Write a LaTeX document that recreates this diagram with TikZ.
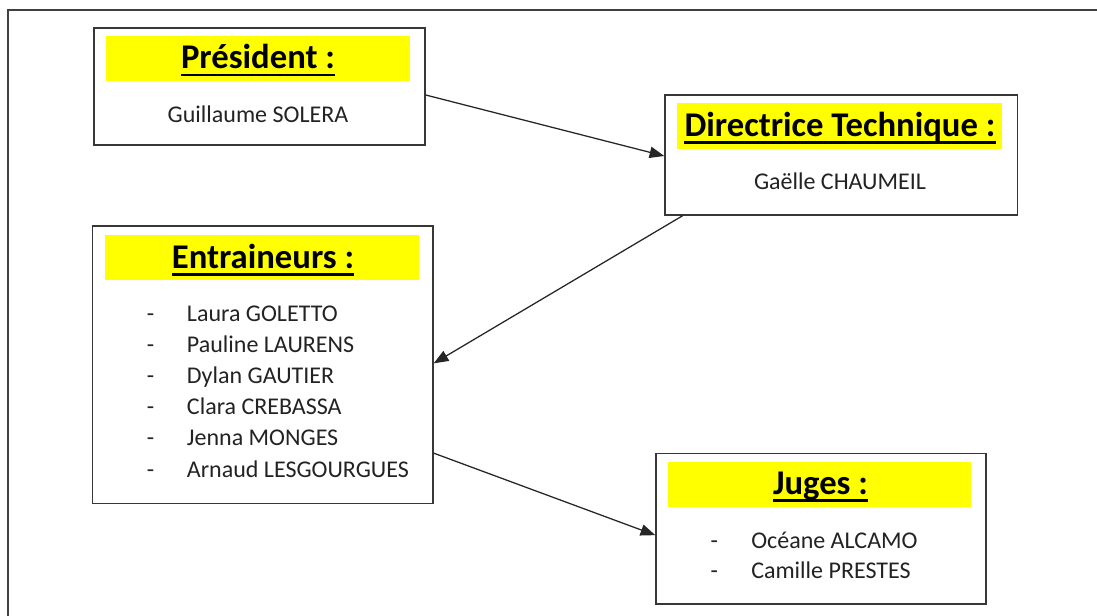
\documentclass[tikz,border=0pt]{standalone}
\usepackage{fontspec}
\setmainfont{Carlito}
\usetikzlibrary{arrows.meta,calc,fit}
\definecolor{hl}{RGB}{255,255,0}
\definecolor{boxline}{RGB}{55,55,55}
\definecolor{txt}{RGB}{35,35,35}
\begin{document}
\begin{tikzpicture}[x=0.75pt,y=-0.75pt,
  box/.style={draw=boxline,line width=1.1pt,inner sep=0pt,fill=white},
  hlbar/.style={fill=hl,draw=none,inner sep=0pt},
  ttl/.style={font=\fontsize{26}{30}\selectfont\bfseries,inner sep=0pt,anchor=base,text=black},
  nm/.style={font=\fontsize{18}{21}\selectfont,inner sep=0pt,anchor=base,text=txt},
  item/.style={font=\fontsize{18}{21}\selectfont,inner sep=0pt,anchor=base west,text=txt},
  dsh/.style={font=\fontsize{18}{21}\selectfont,inner sep=0pt,anchor=base,text=txt},
  conn/.style={draw=black!85,line width=0.95pt,-{Triangle[length=11pt,width=8.5pt]}},
  uline/.style={draw=black,line width=1.7pt},
  frame/.style={draw=black!75,line width=1.6pt}]
\useasboundingbox (0,0) rectangle (1097,615);
\fill[white] (0,0) rectangle (1097,615);
% outer frame
\coordinate (fa) at (8,620);
\coordinate (fb) at (8,10);
\coordinate (fc) at (1100,10);
\draw[frame] (fa) -- (fb) -- (fc);

% President
\node[box,fit={(94,28)(425,145)}] (pres) {};
\node[hlbar,fit={(106,36)(410,81)}] (presbar) {};
\node[ttl] (prest) at (258,68.5) {Président :};
\draw[uline] ($(prest.base west)+(0,6.5)$) -- ($(prest.base east)+(0,6.5)$);
\node[nm] (presn) at (258,122.3) {Guillaume SOLERA};

% Directrice
\node[box,fit={(665,95)(1017.5,215)}] (dir) {};
\node[hlbar,fit={(676.7,103.3)(1002.3,149)}] (dirbar) {};
\node[ttl] (dirt) at (840,136.5) {Directrice Technique :};
\draw[uline] ($(dirt.base west)+(0,6)$) -- ($(dirt.base east)+(0,6)$);
\node[nm] (dirn) at (840,189.3) {Gaëlle CHAUMEIL};

% Entraineurs
\node[box,fit={(92.7,226)(433,503.3)}] (ent) {};
\node[hlbar,fit={(105,235)(419,280)}] (entbar) {};
\node[ttl] (entt) at (263,268.5) {Entraineurs :};
\draw[uline] ($(entt.base west)+(0,6)$) -- ($(entt.base east)+(0,6)$);
\foreach \n/\yy/\name in {1/321/Laura GOLETTO,2/352/Pauline LAURENS,3/383.3/Dylan GAUTIER,4/414.6/Clara CREBASSA,5/445.9/Jenna MONGES,6/477/Arnaud LESGOURGUES}{
  \node[dsh] (entd\n) at (150.5,\yy) {-};
  \node[item] (enti\n) at (186.7,\yy) {\name};
}

% Juges
\node[box,fit={(656,453.3)(986,604)}] (jug) {};
\node[hlbar,fit={(668.3,461.7)(971.3,506.7)}] (jugbar) {};
\node[ttl] (jugt) at (820.5,494.5) {Juges :};
\draw[uline] ($(jugt.base west)+(0,6)$) -- ($(jugt.base east)+(0,6)$);
\node[dsh] (jugd1) at (714.2,548.3) {-};
\node[item] (jugi1) at (751,548.3) {Océane ALCAMO};
\node[dsh] (jugd2) at (714.2,578.8) {-};
\node[item] (jugi2) at (751,578.8) {Camille PRESTES};

% connectors
\draw[conn] ($(pres.east)+(0,8.5)$) -- ($(dir.west)+(0,1)$);
\draw[conn] ($(dir.south west)+(18.3,0)$) -- ($(ent.east)+(0,-1.3)$);
\draw[conn] ($(ent.east)+(0,88.5)$) -- ($(jug.west)+(0,6.5)$);
\end{tikzpicture}
\end{document}
